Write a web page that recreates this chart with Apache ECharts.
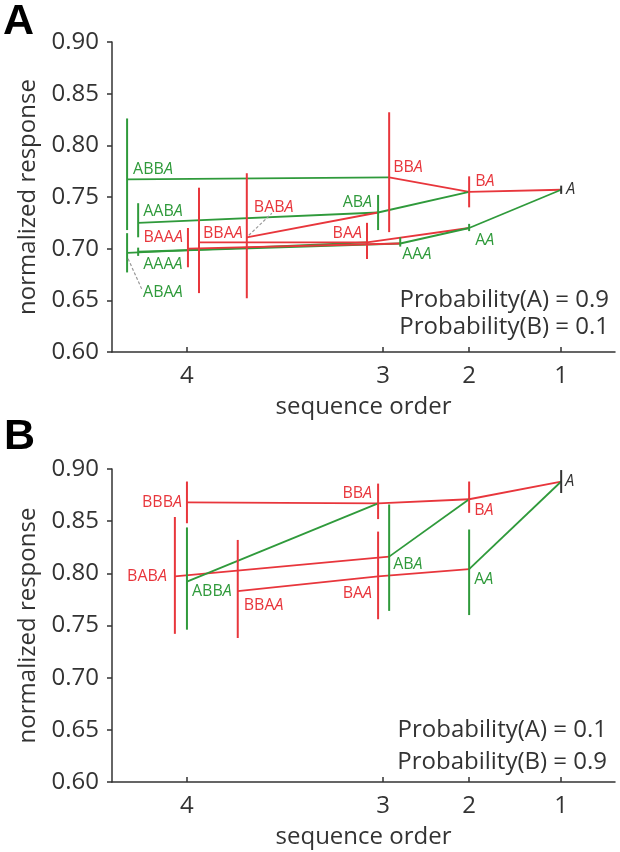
<!DOCTYPE html>
<html><head><meta charset="utf-8">
<script src="https://cdn.jsdelivr.net/npm/echarts@6/dist/echarts.min.js"></script>
<style>html,body{margin:0;padding:0;background:#fff}#c{width:620px;height:852px}</style>
</head><body><div id="c"></div>
<script>
// ---------- DATA ----------
const orderTickPos = [14.9, 53.9, 71.0, 89.3];
const orderTickLabels = ['4', '3', '2', '1'];

// Panel A: Probability(A)=0.9, Probability(B)=0.1
const seqA  = ['A','BA','AA','BBA','ABA','BAA','AAA','ABBA','ABAA','AABA','AAAA','BAAA','BBAA','BABA'];
const posA  = [89.3, 71.0, 71.0, 55.1, 52.9, 50.7, 57.3, 3.0, 3.0, 5.2, 5.2, 15.1, 17.3, 26.8];
const meanA = [0.757,0.755,0.720,0.769,0.735,0.706,0.705,0.767,0.696,0.725,0.697,0.700,0.706,0.711];
const lowA  = [0.753,0.740,0.717,0.716,0.718,0.690,0.702,0.718,0.677,0.711,0.693,0.682,0.657,0.652];
const highA = [0.761,0.770,0.724,0.832,0.752,0.725,0.711,0.826,0.715,0.744,0.701,0.720,0.759,0.773];

// Panel B: Probability(A)=0.1, Probability(B)=0.9
const seqB  = ['A','BA','AA','BBA','ABA','BAA','BBBA','BABA','ABBA','BBAA'];
const posB  = [89.3, 71.0, 71.0, 52.9, 55.1, 52.9, 14.9, 12.5, 14.9, 25.0];
const meanB = [0.888,0.871,0.804,0.867,0.816,0.797,0.868,0.797,0.792,0.783];
const lowB  = [0.877,0.858,0.760,0.852,0.764,0.756,0.848,0.742,0.746,0.738];
const highB = [0.899,0.888,0.842,0.886,0.866,0.840,0.888,0.854,0.844,0.832];

const probTextA = ['Probability(A) = 0.9', 'Probability(B) = 0.1'];
const probTextB = ['Probability(A) = 0.1', 'Probability(B) = 0.9'];

// ---------- LAYOUT / STYLE ----------
const RED = '#e8363c', GREEN = '#2f9a3b', DARK = '#333333';
const FONT = '"Open Sans", "Liberation Sans", sans-serif';
const LBL = 16;
const labelLayoutA = {
  A:[5,0,'left'], BA:[6,-10,'left'], AA:[6,12,'left'], BBA:[4,-10,'left'],
  ABA:[-6,-10,'right'], BAA:[-5,-9,'right'], AAA:[2,11,'left'],
  ABBA:[6,-10,'left'], AABA:[5,-11,'left'], BAAA:[-5,-11,'right'],
  AAAA:[5,13,'left'], ABAA:[16,40,'left'], BBAA:[4,-9,'left'], BABA:[7,-30,'left']
};
const leadersA = { ABAA:[[1,6],[15,37]], BABA:[[2,-2],[25,-24]] };
const labelLayoutB = {
  A:[4,0,'left'], BA:[5,11,'left'], AA:[5,10,'left'], BBA:[-6,-10,'right'],
  ABA:[4,8,'left'], BAA:[-6,17,'right'], BBBA:[-5,0,'right'],
  BABA:[-8,0,'right'], ABBA:[5,10,'left'], BBAA:[6,14,'left']
};
const leadersB = {};

function colorOf(s) { return s.length === 1 ? DARK : (s[0] === 'B' ? RED : GREEN); }

function buildSeries(idx, seq, pos, mean, low, high, layout, leaders) {
  const data = seq.map((s, i) => {
    const c = seq.indexOf(s.slice(1));
    return { name: s, value: [pos[i], mean[i], low[i], high[i],
      c >= 0 ? pos[c] : pos[i], c >= 0 ? mean[c] : mean[i]] };
  });
  const common = { type: 'custom', xAxisIndex: idx, yAxisIndex: idx, data: data, clip: false,
    encode: { x: [0, 4], y: [1, 2, 3, 5] }, silent: true };
  const edges = Object.assign({}, common, { z: 2, renderItem(params, api) {
    const s = seq[params.dataIndex];
    if (s.length === 1) return null;
    const p = api.coord([api.value(0), api.value(1)]);
    const ch = api.coord([api.value(4), api.value(5)]);
    return { type: 'line', shape: { x1: p[0], y1: p[1], x2: ch[0], y2: ch[1] },
      style: { stroke: colorOf(s), lineWidth: 1.8 } };
  }});
  const bars = Object.assign({}, common, { z: 3, renderItem(params, api) {
    const s = seq[params.dataIndex];
    const lo = api.coord([api.value(0), api.value(2)]);
    const hi = api.coord([api.value(0), api.value(3)]);
    return { type: 'line', shape: { x1: lo[0], y1: lo[1], x2: hi[0], y2: hi[1] },
      style: { stroke: colorOf(s), lineWidth: 2 } };
  }});
  const labels = Object.assign({}, common, { z: 4, renderItem(params, api) {
    const s = seq[params.dataIndex];
    const col = colorOf(s);
    const p = api.coord([api.value(0), api.value(1)]);
    const L = layout[s];
    const txt = (s.length > 1 ? '{n|' + s.slice(0, -1) + '}' : '') + '{i|' + s.slice(-1) + '}';
    const children = [{
      type: 'text', x: p[0] + L[0], y: p[1] + L[1],
      style: { text: txt, fill: col, fontSize: LBL, fontFamily: FONT,
        align: L[2], verticalAlign: 'middle',
        rich: { n: { fill: col, fontSize: LBL, fontFamily: FONT },
                i: { fill: col, fontSize: LBL, fontFamily: FONT, fontStyle: 'italic' } } }
    }];
    if (leaders[s]) {
      const a = leaders[s][0], b = leaders[s][1];
      children.push({ type: 'line', shape: { x1: p[0] + a[0], y1: p[1] + a[1], x2: p[0] + b[0], y2: p[1] + b[1] },
        style: { stroke: '#999', lineWidth: 1.2, lineDash: [3, 2] } });
    }
    return { type: 'group', children: children };
  }});
  return [edges, bars, labels];
}

function xAxisDef(idx) {
  return { type: 'value', gridIndex: idx, min: 0, max: 100,
    name: 'sequence order', nameLocation: 'middle', nameGap: 43,
    nameTextStyle: { fontSize: 24, color: DARK, fontFamily: FONT },
    axisLine: { show: true, onZero: false, lineStyle: { color: DARK, width: 1.5 } },
    axisTick: { show: true, inside: true, length: 5, customValues: orderTickPos, lineStyle: { color: DARK, width: 1.5 } },
    axisLabel: { show: true, customValues: orderTickPos, margin: 12, fontSize: 24, color: DARK, fontFamily: FONT,
      formatter: v => { const k = orderTickPos.findIndex(t => Math.abs(t - v) < 1e-6); return k >= 0 ? orderTickLabels[k] : ''; } },
    splitLine: { show: false } };
}
function yAxisDef(idx) {
  return { type: 'value', gridIndex: idx, min: 0.6, max: 0.9, interval: 0.05,
    name: 'normalized response', nameLocation: 'middle', nameGap: 68,
    nameTextStyle: { fontSize: 24, color: DARK, fontFamily: FONT },
    axisLine: { show: true, lineStyle: { color: DARK, width: 1.5 } },
    axisTick: { show: true, inside: false, length: 5, lineStyle: { color: DARK, width: 1.5 } },
    axisLabel: { margin: 13, fontSize: 24, color: DARK, fontFamily: FONT, formatter: v => v.toFixed(2) },
    splitLine: { show: false } };
}

const chart = echarts.init(document.getElementById('c'), null, { renderer: 'canvas' });
chart.setOption({
  backgroundColor: '#fff',
  animation: false,
  grid: [
    { left: 112, top: 42, width: 503, height: 310 },
    { left: 112, top: 469, width: 503, height: 313 }
  ],
  xAxis: [xAxisDef(0), xAxisDef(1)],
  yAxis: [yAxisDef(0), yAxisDef(1)],
  series: [].concat(
    buildSeries(0, seqA, posA, meanA, lowA, highA, labelLayoutA, leadersA),
    buildSeries(1, seqB, posB, meanB, lowB, highB, labelLayoutB, leadersB)
  ),
  graphic: [
    { type: 'text', x: 3, y: 22, style: { text: 'A', fill: '#000', font: 'bold 43px "Liberation Sans", Arial, sans-serif', verticalAlign: 'middle' } },
    { type: 'text', x: 4, y: 437, style: { text: 'B', fill: '#000', font: 'bold 43px "Liberation Sans", Arial, sans-serif', verticalAlign: 'middle' } },
    { type: 'text', x: 609, y: 300, style: { text: probTextA[0], fill: DARK, fontSize: 24, fontFamily: FONT, align: 'right', verticalAlign: 'middle' } },
    { type: 'text', x: 609, y: 327, style: { text: probTextA[1], fill: DARK, fontSize: 24, fontFamily: FONT, align: 'right', verticalAlign: 'middle' } },
    { type: 'text', x: 607, y: 730, style: { text: probTextB[0], fill: DARK, fontSize: 24, fontFamily: FONT, align: 'right', verticalAlign: 'middle' } },
    { type: 'text', x: 607, y: 762, style: { text: probTextB[1], fill: DARK, fontSize: 24, fontFamily: FONT, align: 'right', verticalAlign: 'middle' } }
  ]
});
</script>
</body></html>
